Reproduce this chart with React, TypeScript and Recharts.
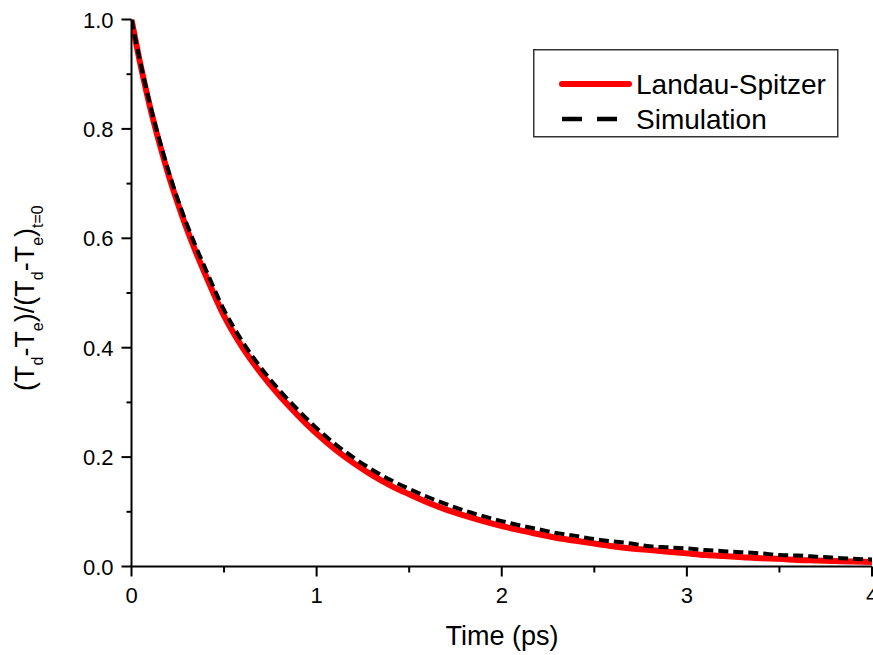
import { LineChart, Line, XAxis, YAxis, Legend, Label } from "recharts";

const FONT = "'Liberation Sans', Arial, sans-serif";

// time axis (ps)
const timePs = [
  0, 0.05, 0.1, 0.15, 0.2, 0.25, 0.3, 0.35, 0.4, 0.5, 0.6, 0.7, 0.8, 0.9, 1.0,
  1.1, 1.2, 1.3, 1.4, 1.5, 1.6, 1.7, 1.8, 1.9, 2.0, 2.1, 2.2, 2.3, 2.4, 2.5,
  2.6, 2.7, 2.8, 2.9, 3.0, 3.1, 3.2, 3.3, 3.4, 3.5, 3.6, 3.7, 3.8, 3.9, 4.0,
];

const landauSpitzer = [
  1.0, 0.915, 0.84, 0.775, 0.716, 0.664, 0.616, 0.573, 0.533, 0.458, 0.4, 0.353,
  0.312, 0.276, 0.243, 0.214, 0.189, 0.167, 0.148, 0.132, 0.117, 0.104, 0.093,
  0.083, 0.074, 0.066, 0.059, 0.052, 0.047, 0.042, 0.037, 0.033, 0.03, 0.027,
  0.024, 0.021, 0.019, 0.017, 0.015, 0.014, 0.012, 0.011, 0.01, 0.009, 0.008,
];

const simulation = [
  1.0, 0.918, 0.845, 0.781, 0.723, 0.671, 0.625, 0.583, 0.544, 0.469, 0.411,
  0.363, 0.322, 0.286, 0.253, 0.224, 0.199, 0.177, 0.158, 0.142, 0.127, 0.114,
  0.102, 0.092, 0.083, 0.075, 0.068, 0.061, 0.056, 0.05, 0.046, 0.042, 0.037,
  0.035, 0.033, 0.03, 0.028, 0.026, 0.024, 0.021, 0.02, 0.018, 0.016, 0.014, 0.013,
];

const xTicks = [0, 0.5, 1, 1.5, 2, 2.5, 3, 3.5, 4];
const yTicks = [0, 0.1, 0.2, 0.3, 0.4, 0.5, 0.6, 0.7, 0.8, 0.9, 1.0];

const data = timePs.map((t, i) => ({
  t,
  landau: landauSpitzer[i],
  sim: simulation[i],
}));

const isMajorX = (v: number) => Number.isInteger(v);
const isMajorY = (v: number) => Math.round(v * 10) % 2 === 0;

const tickText = { fontSize: "22px", fontFamily: FONT, fill: "#000" };

function BottomTick(props: any) {
  const { x, y, payload } = props;
  const major = isMajorX(payload.value);
  return (
    <g>
      <line x1={x} x2={x} y1={y} y2={y + (major ? 10 : 6)} stroke="#000" strokeWidth={2} />
      {major && (
        <text x={x} y={y + 36} textAnchor="middle" style={tickText}>
          {payload.value}
        </text>
      )}
    </g>
  );
}

function TopTick(props: any) {
  const { x, y, payload } = props;
  const major = isMajorX(payload.value);
  return <line x1={x} x2={x} y1={y} y2={y + (major ? 10 : 6)} stroke="#000" strokeWidth={2} />;
}

function LeftTick(props: any) {
  const { x, y, payload } = props;
  const major = isMajorY(payload.value);
  return (
    <g>
      <line x1={x - (major ? 10 : 5)} x2={x} y1={y} y2={y} stroke="#000" strokeWidth={2} />
      {major && (
        <text x={x - 18} y={y + 8} textAnchor="end" style={tickText}>
          {payload.value.toFixed(1)}
        </text>
      )}
    </g>
  );
}

function RightTick(props: any) {
  const { x, y, payload } = props;
  const major = isMajorY(payload.value);
  return <line x1={x - (major ? 10 : 5)} x2={x} y1={y} y2={y} stroke="#000" strokeWidth={2} />;
}

function YTitle() {
  return (
    <text transform="translate(34,391) rotate(-90)" fontSize={27} fontFamily={FONT} fill="#000">
      <tspan>(T</tspan>
      <tspan fontSize={16} dy={9}>d</tspan>
      <tspan dy={-9}>-T</tspan>
      <tspan fontSize={16} dy={9}>e</tspan>
      <tspan dy={-9}>)/(T</tspan>
      <tspan fontSize={16} dy={9}>d</tspan>
      <tspan dy={-9}>-T</tspan>
      <tspan fontSize={16} dy={9}>e</tspan>
      <tspan dy={-9}>)</tspan>
      <tspan fontSize={16} dy={9}>t=0</tspan>
    </text>
  );
}

function XTitle() {
  return (
    <text x={502} y={645} textAnchor="middle" fontSize={27} fontFamily={FONT} fill="#000">
      Time (ps)
    </text>
  );
}

function LegendBox(props: any) {
  const payload = props.payload || [];
  return (
    <svg width={306} height={89} style={{ display: "block" }}>
      <rect x={0.75} y={0.75} width={304} height={87} fill="#fff" stroke="#333" strokeWidth={1.5} />
      {payload.map((p: any, i: number) => {
        const y = 35 + i * 35;
        return (
          <g key={p.value}>
            {i === 0 ? (
              <line x1={29} x2={96} y1={y} y2={y} stroke={p.color} strokeWidth={6} strokeLinecap="round" />
            ) : (
              <line x1={29} x2={84} y1={y} y2={y} stroke={p.color} strokeWidth={4.5} strokeDasharray="20 15" />
            )}
            <text x={103} y={y + 10} fontSize={28} fontFamily={FONT} fill="#000">
              {p.value}
            </text>
          </g>
        );
      })}
    </svg>
  );
}

export default function App() {
  return (
    <div style={{ position: "absolute", left: 0, top: 0, background: "#fff" }}>
      <LineChart
        width={873}
        height={655}
        data={data}
        margin={{ top: 19.5, right: 1, left: 0, bottom: 0 }}
      >
        <XAxis
          xAxisId="bottom"
          dataKey="t"
          type="number"
          domain={[0, 4]}
          ticks={xTicks}
          interval={0}
          height={88.5}
          tickSize={0}
          tickMargin={0}
          tickLine={false}
          axisLine={{ stroke: "#000", strokeWidth: 2 }}
          tick={BottomTick}
          allowDataOverflow
        >
          <Label content={XTitle} />
        </XAxis>
        <XAxis
          xAxisId="top"
          orientation="top"
          type="number"
          domain={[0, 4]}
          ticks={xTicks}
          interval={0}
          height={0}
          tickSize={0}
          tickMargin={0}
          tickLine={false}
          axisLine={{ stroke: "#000", strokeWidth: 2 }}
          tick={TopTick}
          allowDataOverflow
        />
        <YAxis
          yAxisId="left"
          type="number"
          domain={[0, 1]}
          ticks={yTicks}
          interval={0}
          width={131.5}
          tickSize={0}
          tickMargin={0}
          tickLine={false}
          axisLine={{ stroke: "#000", strokeWidth: 2 }}
          tick={LeftTick}
          allowDataOverflow
        >
          <Label content={YTitle} />
        </YAxis>
        <YAxis
          yAxisId="right"
          orientation="right"
          type="number"
          domain={[0, 1]}
          ticks={yTicks}
          interval={0}
          width={0}
          tickSize={0}
          tickMargin={0}
          tickLine={false}
          axisLine={{ stroke: "#000", strokeWidth: 2 }}
          tick={RightTick}
          allowDataOverflow
        />
        <Legend
          layout="vertical"
          align="center"
          verticalAlign="middle"
          wrapperStyle={{ left: 533, top: 49, width: 306, height: 89 }}
          content={LegendBox}
        />
        <Line
          xAxisId="bottom"
          yAxisId="left"
          type="monotone"
          dataKey="landau"
          name="Landau-Spitzer"
          stroke="#ff0000"
          strokeWidth={6}
          dot={false}
          isAnimationActive={false}
        />
        <Line
          xAxisId="bottom"
          yAxisId="left"
          type="monotone"
          dataKey="sim"
          name="Simulation"
          stroke="#000"
          strokeWidth={4}
          strokeDasharray="10 5"
          dot={false}
          isAnimationActive={false}
        />
      </LineChart>
    </div>
  );
}
